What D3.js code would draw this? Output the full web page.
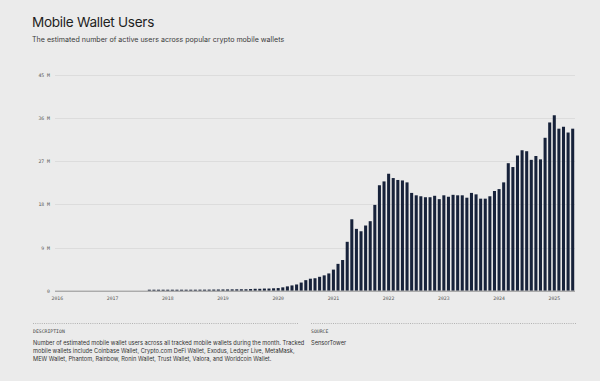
<!DOCTYPE html>
<html>
<head>
<meta charset="utf-8">
<script src="https://cdn.jsdelivr.net/npm/d3@7/dist/d3.min.js"></script>
<style>
  html, body { margin: 0; padding: 0; background: #ebebeb; }
  svg { display: block; }
</style>
</head>
<body>
<script>
// ---- Data ----
const startMonth = "2016-01";
const endMonth = "2025-05";
// Monthly active users (millions), Jan 2016 – May 2025
const values = [
  0,0,0,0,0,0,0,0,0,0,0,0,            // 2016
  0,0,0,0,0,0,0,0,0.15,0.15,0.16,0.17, // 2017
  0.17,0.18,0.18,0.19,0.2,0.2,0.21,0.22,0.22,0.23,0.24,0.25, // 2018
  0.26,0.27,0.28,0.29,0.3,0.3,0.35,0.4,0.4,0.45,0.45,0.5,    // 2019
  0.55,0.7,0.9,1.1,1.3,1.7,2.2,2.5,2.6,2.9,3.2,3.6,          // 2020
  4.4,5.6,6.4,10.2,14.9,12.9,12.4,13.6,14.5,17.9,22.0,22.8,  // 2021
  24.4,23.5,23.1,23.0,22.6,20.4,19.9,19.7,19.5,19.5,19.8,19.1, // 2022
  19.9,19.6,20.0,19.9,19.9,19.4,20.4,20.1,19.2,19.2,19.7,20.8, // 2023
  21.2,22.6,26.6,25.8,28.2,29.3,29.1,27.3,28.1,27.4,31.9,35.1, // 2024
  36.6,33.8,34.2,33.0,33.8                                     // 2025
];
const yTicks = [0, 9, 18, 27, 36, 45];
const yearLabels = ["2016","2017","2018","2019","2020","2021","2022","2023","2024","2025"];

const title = "Mobile Wallet Users";
const subtitle = "The estimated number of active users across popular crypto mobile wallets";
const descLabel = "DESCRIPTION";
const descLines = [
  "Number of estimated mobile wallet users across all tracked mobile wallets during the month. Tracked",
  "mobile wallets include Coinbase Wallet, Crypto.com DeFi Wallet, Exodus, Ledger Live, MetaMask,",
  "MEW Wallet, Phantom, Rainbow, Ronin Wallet, Trust Wallet, Valora, and Worldcoin Wallet."
];
const sourceLabel = "SOURCE";
const sourceText = "SensorTower";

// ---- Build ----
const parse = d3.timeParse("%Y-%m");
const fmtKey = d3.timeFormat("%Y-%m");
const months = d3.timeMonth.range(parse(startMonth), d3.timeMonth.offset(parse(endMonth), 1)).map(fmtKey);
const data = months.map((m, i) => ({ month: m, value: values[i] }));

const W = 600, H = 381;
const svg = d3.select("body").append("svg").attr("width", W).attr("height", H);
svg.append("rect").attr("width", W).attr("height", H).attr("fill", "#ebebeb");

const x = d3.scaleBand().domain(months).range([55, 575]).paddingInner(0.34).paddingOuter(0.17);
const y = d3.scaleLinear().domain([0, 45]).range([290.7, 75]);

const sansFont = "Inter, 'Helvetica Neue', Arial, sans-serif";
const monoFont = "'DejaVu Sans Mono', monospace";

// Title
svg.append("text").attr("x", 32).attr("y", 27)
  .attr("font-family", sansFont).attr("font-size", 13.6).attr("fill", "#1e1e1e")
  .attr("letter-spacing", -0.3)
  .text(title);
svg.append("text").attr("x", 32).attr("y", 42)
  .attr("font-family", sansFont).attr("font-size", 7.1).attr("fill", "#3a3a3a")
  .text(subtitle);

// Grid + y axis
const yAxis = d3.axisLeft(y).tickValues(yTicks).tickSize(0).tickPadding(5)
  .tickFormat(d => d === 0 ? "0" : d + " M");
const gy = svg.append("g").attr("transform", "translate(55,0)").call(yAxis);
gy.select(".domain").remove();
gy.selectAll("text").attr("font-family", monoFont).attr("font-size", 4.8).attr("fill", "#555");

svg.append("g").selectAll("line").data(yTicks.filter(d => d > 0)).join("line")
  .attr("x1", 55).attr("x2", 575)
  .attr("y1", d => Math.round(y(d)) + 0.5).attr("y2", d => Math.round(y(d)) + 0.5)
  .attr("stroke", "#dcdcdc").attr("stroke-width", 1);

// Bars
svg.append("g").selectAll("rect").data(data.filter(d => d.value > 0)).join("rect")
  .attr("x", d => x(d.month))
  .attr("width", x.bandwidth())
  .attr("y", d => Math.min(y(d.value), y(0) - 1))
  .attr("height", d => Math.max(y(0) - y(d.value), 1))
  .attr("fill", "#17223a");

// Zero line
svg.append("line").attr("x1", 55).attr("x2", 575)
  .attr("y1", y(0) + 0.5).attr("y2", y(0) + 0.5)
  .attr("stroke", "#8e8e8e").attr("stroke-width", 1);

// X axis
const janMonths = yearLabels.map(yr => yr + "-01");
const xAxis = d3.axisBottom(x).tickValues(janMonths).tickSize(0).tickPadding(6)
  .tickFormat(d => d.slice(0, 4));
const gx = svg.append("g").attr("transform", `translate(0,${y(0)})`).call(xAxis);
gx.select(".domain").remove();
gx.selectAll("text").attr("font-family", monoFont).attr("font-size", 4.8).attr("fill", "#555");

// Footer
const dot = "#9a9a9a";
svg.append("line").attr("x1", 33).attr("x2", 298).attr("y1", 323.5).attr("y2", 323.5)
  .attr("stroke", dot).attr("stroke-width", 0.7).attr("stroke-dasharray", "1,1.2");
svg.append("line").attr("x1", 311).attr("x2", 576).attr("y1", 323.5).attr("y2", 323.5)
  .attr("stroke", dot).attr("stroke-width", 0.7).attr("stroke-dasharray", "1,1.2");

svg.append("text").attr("x", 33).attr("y", 333)
  .attr("font-family", monoFont).attr("font-size", 4.8).attr("fill", "#444")
  .text(descLabel);
svg.append("text").attr("x", 311).attr("y", 333)
  .attr("font-family", monoFont).attr("font-size", 4.8).attr("fill", "#444")
  .text(sourceLabel);

svg.append("g").selectAll("text").data(descLines).join("text")
  .attr("x", 33).attr("y", (d, i) => 345 + i * 7.8)
  .attr("font-family", sansFont).attr("font-size", 5.7).attr("fill", "#333")
  .text(d => d);
svg.append("text").attr("x", 311).attr("y", 345)
  .attr("font-family", sansFont).attr("font-size", 5.7).attr("fill", "#333")
  .text(sourceText);
</script>
</body>
</html>
